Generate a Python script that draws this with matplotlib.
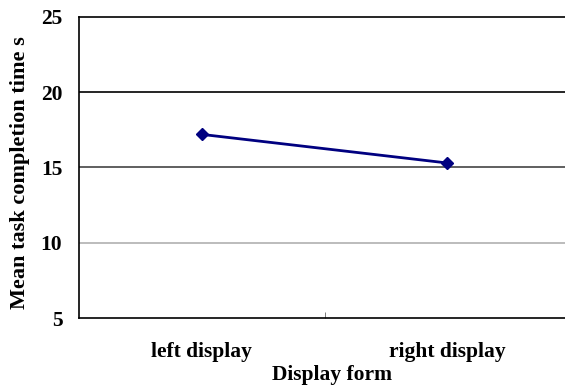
import matplotlib
matplotlib.use('Agg')
import matplotlib.pyplot as plt

categories = ['left display', 'right display']
mean_time = [17.2, 15.3]
y_ticks = [5, 10, 15, 20, 25]

plt.rcParams['font.family'] = ['Liberation Serif', 'DejaVu Serif']
plt.rcParams['font.weight'] = 'bold'

fig = plt.figure(figsize=(5.65, 3.85), dpi=100)
ax = fig.add_axes([79 / 565, 67 / 385, 491 / 565, 301 / 385])

x = list(range(len(categories)))
ax.plot(x, mean_time, color='#000080', linewidth=2, marker='D', markersize=6.5)

ax.set_xlim(-0.5, len(categories) - 0.5)
ax.set_ylim(5, 25)
ax.set_yticks(y_ticks)
ax.set_xticks(x)
ax.set_xticklabels(categories)
ax.set_xticks([0.5], minor=True)
ax.tick_params(axis='x', which='major', length=0, pad=17, labelsize=15.5)
ax.tick_params(axis='x', which='minor', length=4, direction='in', color='#666666')
ax.tick_params(axis='y', length=0, pad=12, labelsize=15.5)

ax.yaxis.grid(True, linewidth=1.2)
grid_colors = ['none', '#b0b0b0', '#444444', '#000000', 'none']
for gl, c in zip(ax.yaxis.get_gridlines(), grid_colors):
    gl.set_color(c)

ax.spines['right'].set_visible(False)
for s in ['top', 'left', 'bottom']:
    ax.spines[s].set_linewidth(1.2)
    ax.spines[s].set_color('black')

ax.set_xlabel('Display form', fontsize=15.5, fontweight='bold')
ax.set_ylabel('Mean task completion time s', fontsize=16, fontweight='bold')
ax.xaxis.set_label_coords(0.515, -0.155)
ax.yaxis.set_label_coords(-0.1, 0.482)

fig.savefig('out.png', dpi=100)
